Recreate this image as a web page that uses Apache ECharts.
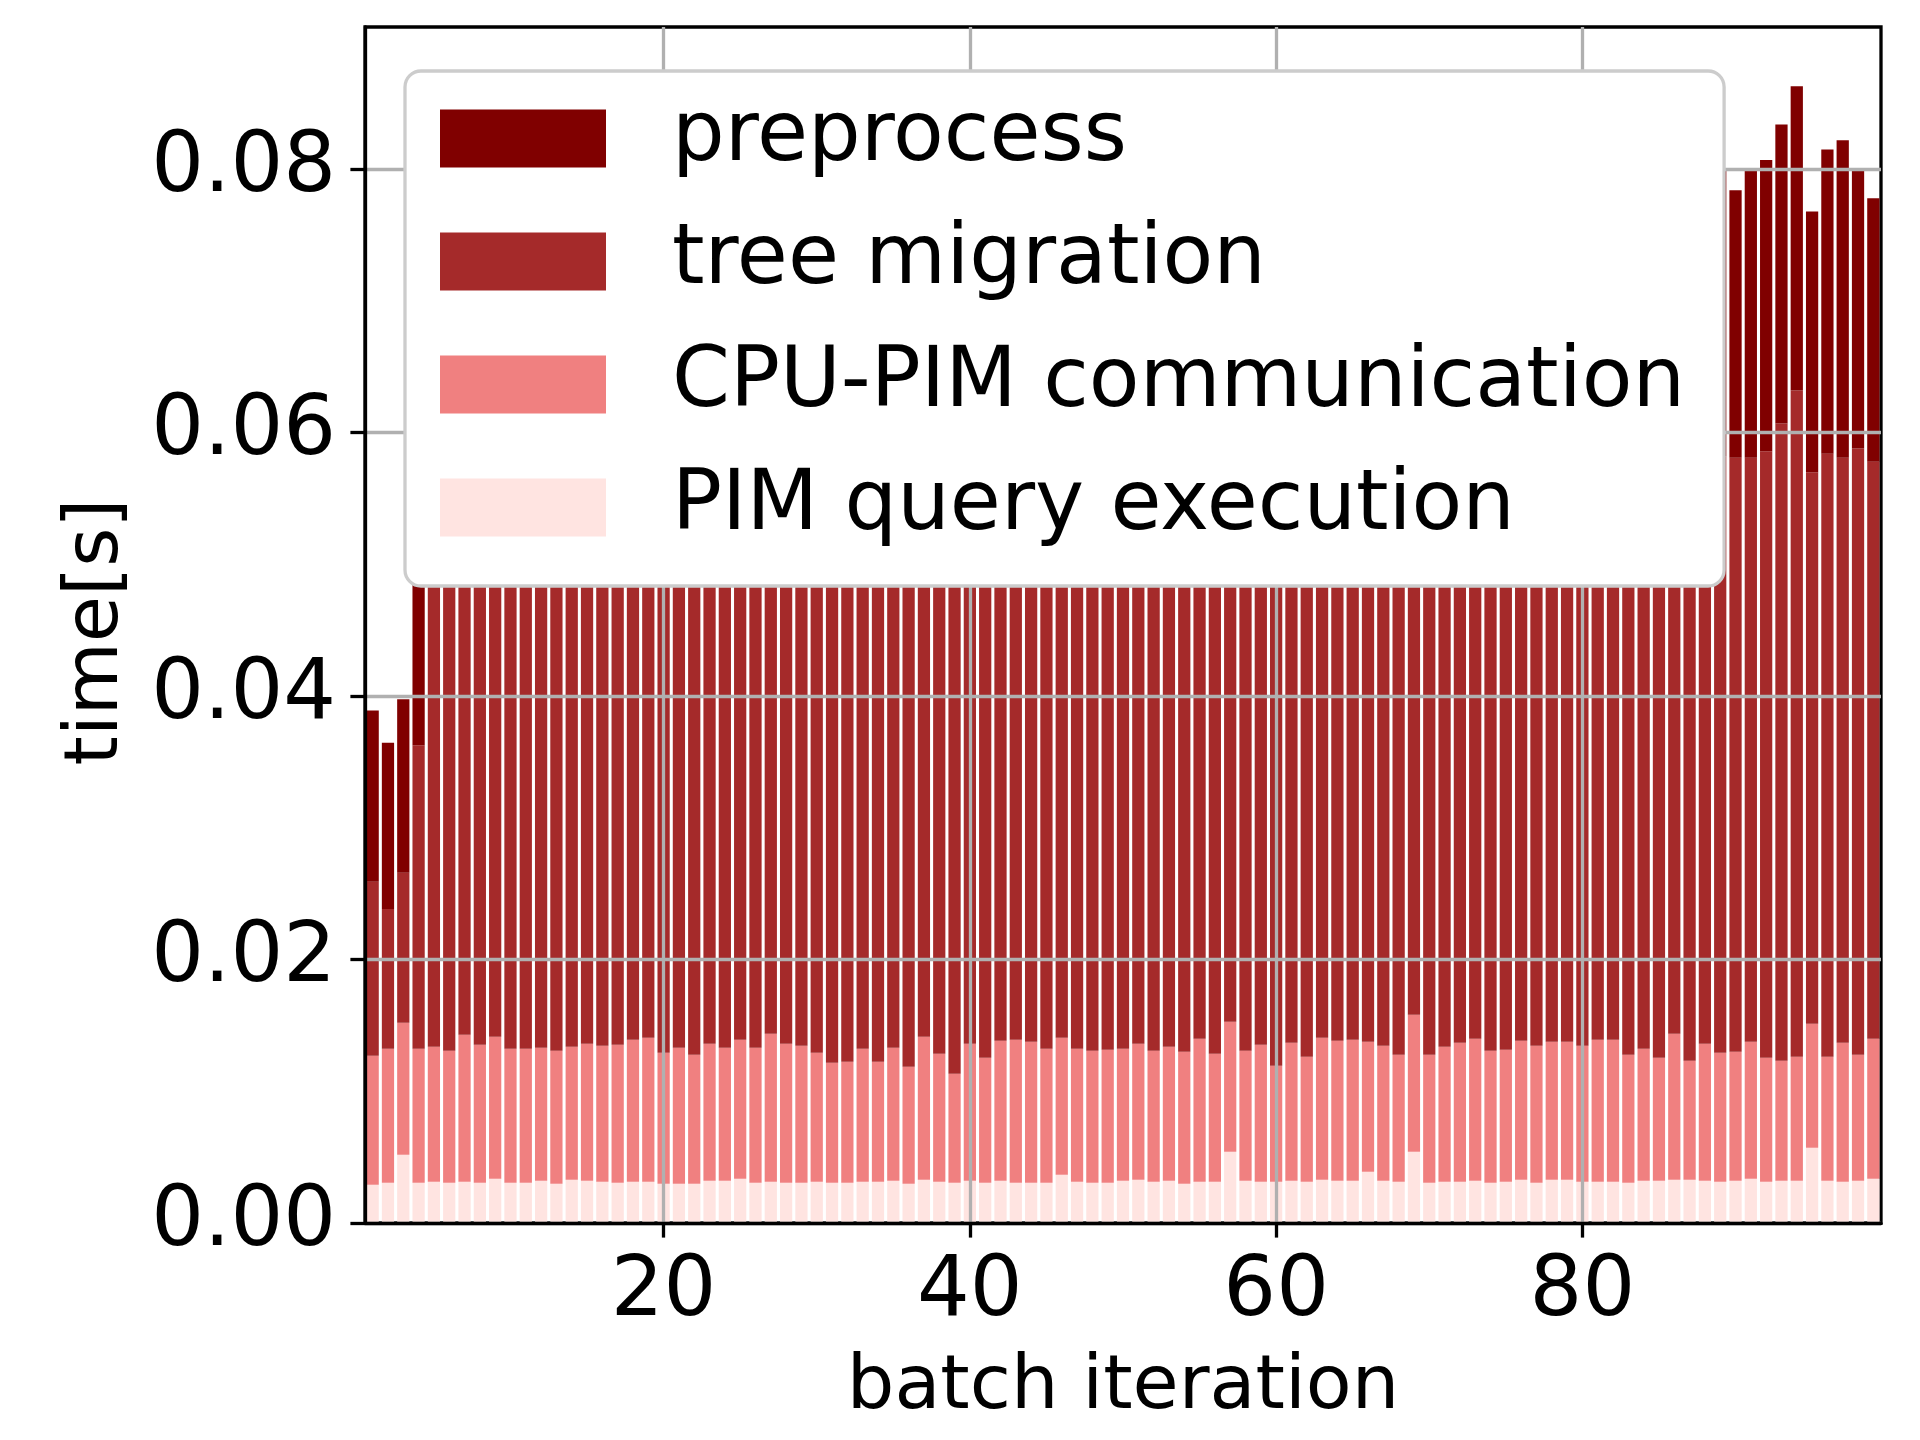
<!DOCTYPE html>
<html>
<head>
<meta charset="utf-8">
<script src="https://cdn.jsdelivr.net/npm/echarts@6/dist/echarts.min.js"></script>
<style>
html,body{margin:0;padding:0;background:#ffffff;}
#chart{width:1920px;height:1440px;}
</style>
</head>
<body>
<div id="chart"></div>
<script>
// ---- data (seconds) ----
const iterations = [1,2,3,4,5,6,7,8,9,10,11,12,13,14,15,16,17,18,19,20,
  21,22,23,24,25,26,27,28,29,30,31,32,33,34,35,36,37,38,39,40,
  41,42,43,44,45,46,47,48,49,50,51,52,53,54,55,56,57,58,59,60,
  61,62,63,64,65,66,67,68,69,70,71,72,73,74,75,76,77,78,79,80,
  81,82,83,84,85,86,87,88,89,90,91,92,93,94,95,96,97,98,99];

const pimQuery = [0.00291,0.00306,0.00518,0.00306,0.00314,0.00306,0.00314,0.00306,0.00336,0.00306,
  0.00306,0.00321,0.00298,0.00329,0.00321,0.00314,0.00306,0.00314,0.00314,0.00298,
  0.00298,0.00298,0.00321,0.00321,0.00336,0.00306,0.00314,0.00306,0.00306,0.00314,
  0.00306,0.00306,0.00314,0.00314,0.00321,0.00298,0.00329,0.00314,0.00306,0.00321,
  0.00306,0.00321,0.00306,0.00306,0.00306,0.00367,0.00314,0.00306,0.00306,0.00321,
  0.00329,0.00314,0.00321,0.00298,0.00314,0.00314,0.00541,0.00321,0.00314,0.00314,
  0.00321,0.00314,0.00329,0.00321,0.00321,0.00390,0.00321,0.00314,0.00541,0.00306,
  0.00314,0.00314,0.00321,0.00306,0.00314,0.00329,0.00306,0.00329,0.00329,0.00314,
  0.00314,0.00314,0.00306,0.00321,0.00321,0.00329,0.00329,0.00321,0.00314,0.00321,
  0.00336,0.00314,0.00321,0.00321,0.00572,0.00321,0.00314,0.00321,0.00336];

const cpuPimComm = [0.00979,0.01017,0.01002,0.01017,0.01024,0.01001,0.01115,0.01047,0.01078,0.01017,
  0.01017,0.01009,0.01009,0.01009,0.01040,0.01031,0.01047,0.01077,0.01092,0.00994,
  0.01032,0.00979,0.01040,0.01009,0.01055,0.01024,0.01123,0.01055,0.01039,0.00978,
  0.00910,0.00918,0.01009,0.00910,0.01009,0.00888,0.01085,0.00971,0.00827,0.01040,
  0.00948,0.01062,0.01085,0.01070,0.01017,0.01039,0.01009,0.01001,0.01009,0.01002,
  0.01032,0.00993,0.01017,0.01002,0.01085,0.00971,0.00987,0.00986,0.01039,0.00880,
  0.01047,0.00948,0.01077,0.01062,0.01070,0.00986,0.01024,0.00963,0.01040,0.00971,
  0.01024,0.01054,0.01078,0.01001,0.01001,0.01054,0.01039,0.01047,0.01047,0.01031,
  0.01077,0.01077,0.00971,0.01002,0.00933,0.01108,0.00903,0.01040,0.00978,0.00979,
  0.01040,0.00940,0.00911,0.00941,0.00940,0.00941,0.01054,0.00956,0.01063];

const treeMigration = [0.01320,0.01061,0.01140,0.02305,0.0441,0.0448,0.0432,0.0445,0.0439,0.0446,
  0.0450,0.0442,0.0449,0.0443,0.0438,0.0447,0.0440,0.0436,0.0435,0.0451,
  0.0444,0.0453,0.0440,0.0446,0.0437,0.0445,0.0431,0.0442,0.0448,0.0450,
  0.0457,0.0455,0.0444,0.0456,0.0443,0.0460,0.0436,0.0449,0.0464,0.0441,
  0.0452,0.0439,0.0438,0.0440,0.0447,0.0437,0.0445,0.0448,0.0446,0.0444,
  0.0440,0.0449,0.0443,0.0447,0.0436,0.0450,0.0424,0.0446,0.0441,0.0459,
  0.0440,0.0452,0.0437,0.0441,0.0439,0.0440,0.0443,0.0451,0.0421,0.0450,
  0.0444,0.0442,0.0438,0.0448,0.0446,0.0440,0.0445,0.0441,0.0442,0.0445,
  0.0440,0.0443,0.0452,0.0449,0.0456,0.0435,0.0458,0.0445,0.0453,0.04510,
  0.04434,0.04606,0.04838,0.05058,0.04188,0.04578,0.04442,0.04603,0.04381];

const preprocess = [0.01300,0.01262,0.01317,0.01750,0.0204,0.0211,0.0208,0.0215,0.0202,0.0210,
  0.0206,0.0213,0.0209,0.0217,0.0205,0.0212,0.0207,0.0214,0.0203,0.0210,
  0.0216,0.0208,0.0211,0.0204,0.0215,0.0209,0.0212,0.0206,0.0213,0.0207,
  0.0218,0.0205,0.0210,0.0214,0.0208,0.0212,0.0206,0.0215,0.0209,0.0211,
  0.0204,0.0216,0.0207,0.0213,0.0208,0.0210,0.0217,0.0205,0.0212,0.0209,
  0.0214,0.0206,0.0211,0.0208,0.0215,0.0207,0.0210,0.0213,0.0206,0.0212,
  0.0209,0.0216,0.0205,0.0211,0.0208,0.0214,0.0207,0.0210,0.0213,0.0206,
  0.0215,0.0209,0.0212,0.0204,0.0211,0.0208,0.0216,0.0207,0.0213,0.0209,
  0.0210,0.0214,0.0206,0.0212,0.0208,0.0215,0.0209,0.0211,0.0217,0.02030,
  0.02200,0.02210,0.02270,0.02310,0.01980,0.02310,0.02410,0.02130,0.02000];

const seriesNames = ['preprocess', 'tree migration', 'CPU-PIM communication', 'PIM query execution'];
const xTicks = [20, 40, 60, 80];
const yTicks = [0, 0.02, 0.04, 0.06, 0.08];

// ---- styling ----
const FONT = 'DejaVu Sans';
const COLORS = {
  'preprocess': '#800000',
  'tree migration': '#a52a2a',
  'CPU-PIM communication': '#f08080',
  'PIM query execution': '#ffe4e1'
};
const LW = 3.3;

// value first, iteration second, so the stack is applied on the value (y) dimension
function rows(vals) { return iterations.map((x, i) => [vals[i], x]); }

function barSeries(name, vals) {
  return {
    name: name,
    type: 'bar',
    stack: 'total',
    barWidth: '80%',
    data: rows(vals),
    encode: { x: 1, y: 0 },
    itemStyle: { color: COLORS[name] },
    emphasis: { disabled: true },
    z: 2
  };
}

const chart = echarts.init(document.getElementById('chart'), null, { renderer: 'canvas' });

const option = {
  animation: false,
  backgroundColor: '#ffffff',
  grid: {
    left: 365, top: 27, width: 1516, height: 1196,
    show: true, borderColor: '#000000', borderWidth: LW, backgroundColor: 'transparent',
    containLabel: false
  },
  legend: {
    data: seriesNames,
    orient: 'vertical',
    left: 405, top: 71,
    padding: [26, 39, 37, 35],
    itemWidth: 166, itemHeight: 58, itemGap: 40,
    icon: 'rect',
    backgroundColor: '#ffffff',
    borderColor: '#cccccc', borderWidth: LW, borderRadius: 16,
    textStyle: { fontFamily: FONT, fontSize: 83, color: '#000000', lineHeight: 83, padding: [0, 0, 0, 61] },
    selectedMode: false,
    z: 10
  },
  xAxis: {
    type: 'value', min: 0.5, max: 99.5, z: 3,
    axisLine: { show: true, onZero: false, lineStyle: { color: '#000000', width: LW } },
    axisTick: { show: true, length: 14.6, customValues: xTicks, lineStyle: { color: '#000000', width: LW } },
    axisLabel: { show: true, customValues: xTicks, margin: 29, fontFamily: FONT, fontSize: 83, color: '#000000',
      formatter: v => String(v) },
    splitLine: { show: true, lineStyle: { color: '#b0b0b0', width: LW } },
    name: 'batch iteration', nameLocation: 'middle', nameGap: 128,
    nameTextStyle: { fontFamily: FONT, fontSize: 75, color: '#000000' }
  },
  yAxis: {
    type: 'value', min: 0, max: 0.0908, z: 3,
    axisLine: { show: true, onZero: false, lineStyle: { color: '#000000', width: LW } },
    axisTick: { show: true, length: 14.6, customValues: yTicks, lineStyle: { color: '#000000', width: LW } },
    axisLabel: { show: true, customValues: yTicks, margin: 29, fontFamily: FONT, fontSize: 83, color: '#000000',
      formatter: v => v.toFixed(2) },
    splitLine: { show: true, lineStyle: { color: '#b0b0b0', width: LW } },
    name: 'time[s]', nameLocation: 'middle', nameGap: 230, nameRotate: 90,
    nameTextStyle: { fontFamily: FONT, fontSize: 75, color: '#000000', padding: [0, 14, 0, 0] }
  },
  series: [
    barSeries('PIM query execution', pimQuery),
    barSeries('CPU-PIM communication', cpuPimComm),
    barSeries('tree migration', treeMigration),
    barSeries('preprocess', preprocess)
  ]
};
chart.setOption(option);
</script>
</body>
</html>
